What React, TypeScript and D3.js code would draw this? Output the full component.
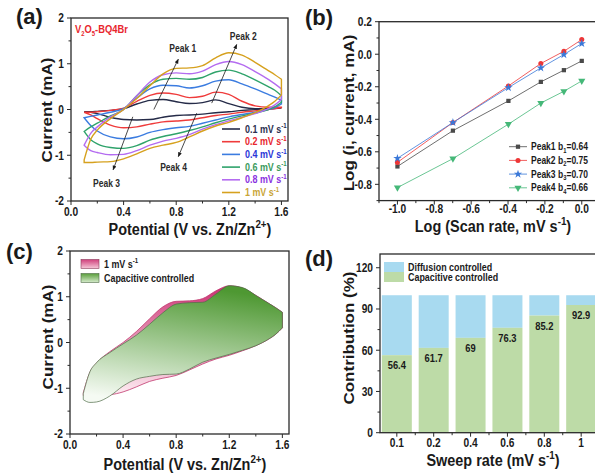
import React from 'react';
import * as d3 from 'd3';

const SX = 0.85;
const FONT = "'Liberation Sans', Arial, Helvetica, sans-serif";

// ---------- Panel (a): CV curves ----------
const potentials = [0.1, 0.15, 0.2, 0.3, 0.4, 0.5, 0.6, 0.7, 0.8, 0.9, 1.0, 1.1, 1.2, 1.3, 1.4, 1.5, 1.55, 1.6];
const up01 = [-0.05, -0.05, -0.04, -0.02, 0.02, 0.12, 0.2, 0.22, 0.17, 0.13, 0.15, 0.21, 0.13, 0.05, 0.02, 0.02, 0.02, 0.03];
const down01 = [-0.05, -0.06, -0.09, -0.17, -0.22, -0.23, -0.22, -0.17, -0.13, -0.12, -0.1, -0.07, -0.05, -0.02, 0.0, 0.01, 0.02, 0.03];
const up02 = [-0.06, -0.06, -0.05, -0.02, 0.03, 0.18, 0.31, 0.36, 0.33, 0.26, 0.29, 0.38, 0.33, 0.18, 0.08, 0.05, 0.05, 0.05];
const down02 = [-0.06, -0.12, -0.2, -0.34, -0.4, -0.38, -0.32, -0.27, -0.25, -0.23, -0.18, -0.13, -0.1, -0.06, -0.03, 0.0, 0.02, 0.04];
const up04 = [-0.18, -0.15, -0.12, -0.06, 0.02, 0.25, 0.45, 0.53, 0.52, 0.47, 0.52, 0.62, 0.65, 0.56, 0.45, 0.33, 0.27, 0.2];
const down04 = [-0.18, -0.35, -0.47, -0.6, -0.64, -0.6, -0.5, -0.44, -0.4, -0.37, -0.3, -0.23, -0.16, -0.11, -0.06, 0.0, 0.04, 0.12];
const up06 = [-0.48, -0.38, -0.3, -0.14, 0.0, 0.3, 0.54, 0.66, 0.68, 0.66, 0.7, 0.82, 0.86, 0.78, 0.65, 0.5, 0.42, 0.3];
const down06 = [-0.48, -0.66, -0.75, -0.83, -0.85, -0.79, -0.67, -0.59, -0.53, -0.46, -0.38, -0.29, -0.21, -0.14, -0.08, 0.0, 0.06, 0.16];
const up08 = [-0.78, -0.52, -0.38, -0.16, 0.0, 0.3, 0.6, 0.76, 0.8, 0.78, 0.84, 0.98, 1.05, 0.98, 0.83, 0.66, 0.56, 0.45];
const down08 = [-0.78, -0.9, -0.94, -0.99, -0.98, -0.9, -0.78, -0.69, -0.63, -0.55, -0.43, -0.33, -0.25, -0.17, -0.09, 0.02, 0.1, 0.22];
const up1 = [-1.1, -0.65, -0.45, -0.2, 0.0, 0.24, 0.52, 0.78, 0.9, 0.91, 0.96, 1.13, 1.24, 1.19, 1.03, 0.85, 0.76, 0.66];
const down1 = [-1.16, -1.16, -1.15, -1.14, -1.08, -0.97, -0.85, -0.78, -0.72, -0.6, -0.47, -0.36, -0.28, -0.18, -0.07, 0.08, 0.18, 0.32];

const rateLabels = ['0.1', '0.2', '0.4', '0.6', '0.8', '1'];
const cvUp = [up01, up02, up04, up06, up08, up1];
const cvDown = [down01, down02, down04, down06, down08, down1];
const lineColors = ['#252b48', '#ef3b3b', '#3b7ce0', '#2fa36b', '#b46cf0', '#d6a11e'];
const textColors = ['#2b3050', '#e8262d', '#2a36d8', '#3a9a5c', '#8a30e0', '#c9a536'];

// ---------- Panel (b): log i vs log v ----------
const logRates = [-1, -0.699, -0.398, -0.222, -0.097, 0];
const peak1 = [-0.69, -0.47, -0.287, -0.17, -0.098, -0.041];
const peak2 = [-0.665, -0.42, -0.195, -0.057, 0.018, 0.09];
const peak3 = [-0.64, -0.42, -0.205, -0.084, -0.002, 0.066];
const peak4 = [-0.82, -0.642, -0.43, -0.3, -0.228, -0.164];
const peakNames = ['Peak1', 'Peak2', 'Peak3', 'Peak4'];
const bValues = ['0.64', '0.75', '0.70', '0.66'];
const peakColors = ['#4a4a4a', '#ee3636', '#3a78d8', '#45b878'];

// ---------- Panel (c): capacitive contribution at 1 mV/s ----------
const capUp = [-1.12, -0.64, -0.44, -0.22, -0.03, 0.16, 0.4, 0.65, 0.84, 0.87, 0.88, 1.06, 1.24, 1.2, 1.03, 0.85, 0.76, 0.66];
const capDown = [-1.25, -1.31, -1.3, -1.17, -0.95, -0.8, -0.74, -0.7, -0.69, -0.58, -0.43, -0.34, -0.26, -0.17, -0.07, 0.08, 0.18, 0.32];

// ---------- Panel (d): contribution bars ----------
const sweepRates = ['0.1', '0.2', '0.4', '0.6', '0.8', '1'];
const capacitive = [56.4, 61.7, 69, 76.3, 85.2, 92.9];
const capLabels = ['56.4', '61.7', '69', '76.3', '85.2', '92.9'];

type TProps = { x: number; y: number; size?: number; anchor?: string; fill?: string; rot?: boolean; children?: React.ReactNode; weight?: string; sx?: number };
function T({ x, y, size = 12, anchor = 'start', fill = '#1a1a1a', rot = false, children, weight = 'bold', sx = SX }: TProps) {
  const tf = rot ? `translate(${x},${y}) scale(${sx},1) rotate(-90)` : `translate(${x},${y}) scale(${sx},1)`;
  return (
    <text transform={tf} textAnchor={anchor as any} fontSize={size} fontWeight={weight} fill={fill} fontFamily={FONT}>
      {children}
    </text>
  );
}

function Frame({ x0, x1, y0, y1 }: { x0: number; x1: number; y0: number; y1: number }) {
  return <rect x={x0} y={y0} width={x1 - x0} height={y1 - y0} fill="none" stroke="#2a2a2a" strokeWidth={1.3} />;
}

function XTicks({ scale, y, major, minor, fmt, labelY, size = 12 }: any) {
  return (
    <g>
      {major.map((v: any, i: number) => (
        <line key={'M' + i} x1={scale(v)} x2={scale(v)} y1={y} y2={y + 4} stroke="#2a2a2a" strokeWidth={1} />
      ))}
      {minor.map((v: any, i: number) => (
        <line key={'m' + i} x1={scale(v)} x2={scale(v)} y1={y} y2={y + 2.5} stroke="#2a2a2a" strokeWidth={1} />
      ))}
      {major.map((v: any, i: number) => (
        <T key={'L' + i} x={scale(v)} y={labelY} size={size} anchor="middle">{fmt(v)}</T>
      ))}
    </g>
  );
}

function YTicks({ scale, x, major, minor, fmt, labelX, size = 12 }: any) {
  return (
    <g>
      {major.map((v: number, i: number) => (
        <line key={'M' + i} x1={x - 4} x2={x} y1={scale(v)} y2={scale(v)} stroke="#2a2a2a" strokeWidth={1} />
      ))}
      {minor.map((v: number, i: number) => (
        <line key={'m' + i} x1={x - 2.5} x2={x} y1={scale(v)} y2={scale(v)} stroke="#2a2a2a" strokeWidth={1} />
      ))}
      {major.map((v: number, i: number) => (
        <T key={'L' + i} x={labelX} y={scale(v) + size * 0.36} size={size} anchor="end">{fmt(v)}</T>
      ))}
    </g>
  );
}

function loopPath(up: number[], down: number[], xs: any, ys: any) {
  const pts = potentials.map((v, i) => ({ v, u: up[i], d: down[i] }));
  const area = d3
    .area<{ v: number; u: number; d: number }>()
    .x((p) => xs(p.v))
    .y1((p) => ys(p.u))
    .y0((p) => ys(p.d))
    .curve(d3.curveMonotoneX);
  return area(pts) || '';
}

function Sup({ text, size, rise = 0.42 }: { text: string; size: number; rise?: number }) {
  return (
    <tspan dy={-size * rise} fontSize={size * 0.68}>{text}</tspan>
  );
}

export default function App() {
  // Panel a
  const ax = d3.scaleLinear().domain([0, 1.65]).range([71, 288]);
  const ay = d3.scaleLinear().domain([-2, 2]).range([201, 18]);
  // Panel b
  const bx = d3.scaleLinear().domain([-1.1, 0.1]).range([379, 600.2]);
  const by = d3.scaleLinear().domain([-0.9, 0.2]).range([200.6, 21.7]);
  // Panel c
  const cx = d3.scaleLinear().domain([0, 1.65]).range([70, 289]);
  const cy = d3.scaleLinear().domain([-2, 2]).range([434, 251]);
  // Panel d
  const dx = d3.scalePoint<string>().domain(sweepRates).range([380, 598]).padding(0.456);
  const dy = d3.scaleLinear().domain([0, 130]).range([432.7, 254]);
  const barW = 30;

  const xMajorA = [0, 4, 8, 12, 16].map((i) => i / 10);
  const xMinorA = [2, 6, 10, 14].map((i) => i / 10);
  const yMajorA = [-2, -1, 0, 1, 2];
  const yMinorA = [-1.5, -0.5, 0.5, 1.5];

  const bLine = d3.line<number>().x((_, i) => bx(logRates[i])).y((v) => by(v));
  const peaks = [peak1, peak2, peak3, peak4];
  const symbols = [d3.symbolSquare, d3.symbolCircle, d3.symbolStar, d3.symbolTriangle];
  const symSizes = [18, 20, 22, 22];
  const symPath = (k: number) => d3.symbol().type(symbols[k]).size(symSizes[k])() || '';

  const arrows = [
    { from: [0.63, 0.0], to: [0.816, 1.1], label: 'Peak 1', at: [0.85, 1.33] },
    { from: [1.07, 0.14], to: [1.26, 1.42], label: 'Peak 2', at: [1.31, 1.6] },
    { from: [0.47, -0.16], to: [0.32, -1.32], label: 'Peak 3', at: [0.27, -1.62] },
    { from: [0.956, -0.08], to: [0.816, -1.03], label: 'Peak 4', at: [0.78, -1.27] },
  ];

  return (
    <svg width={595} height={474} style={{ position: 'absolute', left: 0, top: 0, background: '#fff' }} fontFamily={FONT}>
      <defs>
        <marker id="arr" viewBox="0 0 10 10" refX="9" refY="5" markerWidth="6" markerHeight="6" orient="auto-start-reverse">
          <path d="M0,1 L10,5 L0,9 z" fill="#1a1a1a" />
        </marker>
        <linearGradient id="pinkG" x1="0.6" y1="0" x2="0.3" y2="1">
          <stop offset="0%" stopColor="#cc3474" />
          <stop offset="100%" stopColor="#fde9f0" />
        </linearGradient>
        <linearGradient id="greenG" x1="0.55" y1="0" x2="0.3" y2="1">
          <stop offset="0%" stopColor="#4e9832" />
          <stop offset="100%" stopColor="#f5faf3" />
        </linearGradient>
        <linearGradient id="pinkS" x1="0" y1="0" x2="0" y2="1">
          <stop offset="0%" stopColor="#d0407c" />
          <stop offset="100%" stopColor="#f6c8d8" />
        </linearGradient>
        <linearGradient id="greenS" x1="0" y1="0" x2="0" y2="1">
          <stop offset="0%" stopColor="#5a9e3c" />
          <stop offset="100%" stopColor="#d6ebcc" />
        </linearGradient>
      </defs>
      <rect x={0} y={0} width={595} height={474} fill="#fff" />

      {/* ================= Panel (a) ================= */}
      <T x={16} y={24} size={22} sx={1}>(a)</T>
      {cvUp.map((u, k) => (
        <path key={k} d={loopPath(u, cvDown[k], ax, ay)} fill="none" stroke={lineColors[k]} strokeWidth={1.4} />
      ))}
      {arrows.map((a, i) => (
        <g key={i}>
          <line x1={ax(a.from[0])} y1={ay(a.from[1])} x2={ax(a.to[0])} y2={ay(a.to[1])} stroke="#1a1a1a" strokeWidth={0.8} markerEnd="url(#arr)" />
          <T x={ax(a.at[0])} y={ay(a.at[1]) + 3.5} size={10} anchor="middle" fill="#2a2a2a">{a.label}</T>
        </g>
      ))}
      <T x={75} y={33} size={11} fill="#e8262d">
        V<tspan dy={2.5} fontSize={7}>2</tspan><tspan dy={-2.5}>O</tspan><tspan dy={2.5} fontSize={7}>5</tspan><tspan dy={-2.5}>-BQ4Br</tspan>
      </T>
      {rateLabels.map((r, k) => {
        const yy = 129 + k * 12.7;
        return (
          <g key={k}>
            <line x1={222} x2={240} y1={yy} y2={yy} stroke={lineColors[k]} strokeWidth={1.6} />
            <T x={245} y={yy + 3.6} size={10.5} fill={textColors[k]}>
              {r} mV s<Sup text="-1" size={10.5} />
            </T>
          </g>
        );
      })}
      <Frame x0={71} x1={288} y0={18} y1={201} />
      <XTicks scale={ax} y={201} major={xMajorA} minor={xMinorA} fmt={(v: number) => v.toFixed(1)} labelY={215.5} />
      <YTicks scale={ay} x={71} major={yMajorA} minor={yMinorA} fmt={(v: number) => String(v)} labelX={64} />
      <T x={190} y={235} size={17} anchor="middle">
        Potential (V vs. Zn/Zn<Sup text="2+" size={17} /><tspan dy={17 * 0.42}>)</tspan>
      </T>
      <T x={52} y={110} size={17} anchor="middle" rot>Current (mA)</T>

      {/* ================= Panel (b) ================= */}
      <T x={305} y={25} size={22} sx={1}>(b)</T>
      {peaks.map((p, k) => (
        <g key={k}>
          <path d={bLine(p) || ''} fill="none" stroke={peakColors[k]} strokeWidth={0.8} />
          {p.map((v, i) => (
            <path key={i} d={symPath(k)} transform={`translate(${bx(logRates[i])},${by(v)})${k === 3 ? ' rotate(180)' : ''}`} fill={peakColors[k]} />
          ))}
        </g>
      ))}
      {peakNames.map((n, k) => {
        const yy = 146.7 + k * 13.7;
        return (
          <g key={k}>
            <line x1={509} x2={527} y1={yy} y2={yy} stroke={peakColors[k]} strokeWidth={0.8} />
            <path d={symPath(k)} transform={`translate(518,${yy})${k === 3 ? ' rotate(180)' : ''}`} fill={peakColors[k]} />
            <T x={531} y={yy + 3.5} size={10}>{n}</T>
            <T x={558} y={yy + 3.5} size={10}>
              b<tspan dy={2.3} fontSize={6.8}>{k + 1}</tspan><tspan dy={-2.3}>={bValues[k]}</tspan>
            </T>
          </g>
        );
      })}
      <Frame x0={379} x1={600.2} y0={21.7} y1={200.6} />
      <XTicks scale={bx} y={200.6} major={[-10, -8, -6, -4, -2, 0].map((i) => i / 10)} minor={[-11, -9, -7, -5, -3, -1].map((i) => i / 10)} fmt={(v: number) => v.toFixed(1)} labelY={213} />
      <YTicks scale={by} x={379} major={[-8, -6, -4, -2, 0, 2].map((i) => i / 10)} minor={[-9, -7, -5, -3, -1, 1].map((i) => i / 10)} fmt={(v: number) => v.toFixed(1)} labelX={372} />
      <T x={493} y={232} size={17} anchor="middle">
        Log (Scan rate, mV s<Sup text="-1" size={17} /><tspan dy={17 * 0.42}>)</tspan>
      </T>
      <T x={354} y={113} size={17} anchor="middle" rot>Log (i, current, mA)</T>

      {/* ================= Panel (c) ================= */}
      <T x={6} y={259} size={22} sx={1}>(c)</T>
      <path d={loopPath(up1, down1, cx, cy)} fill="url(#pinkG)" stroke="#c23a70" strokeWidth={0.8} />
      <path d={loopPath(capUp, capDown, cx, cy)} fill="url(#greenG)" stroke="#4f6b47" strokeWidth={0.7} />
      <rect x={81} y={259.5} width={18} height={9} fill="url(#pinkS)" stroke="#8a3a5a" strokeWidth={0.6} />
      <rect x={81} y={273.5} width={18} height={9} fill="url(#greenS)" stroke="#4f6b47" strokeWidth={0.6} />
      <T x={104} y={267.8} size={10.5}>1 mV s<Sup text="-1" size={10.5} /></T>
      <T x={104} y={281.8} size={10.5}>Capacitive controlled</T>
      <Frame x0={70} x1={289} y0={251} y1={434} />
      <XTicks scale={cx} y={434} major={xMajorA} minor={xMinorA} fmt={(v: number) => v.toFixed(1)} labelY={448.5} />
      <YTicks scale={cy} x={70} major={yMajorA} minor={yMinorA} fmt={(v: number) => String(v)} labelX={63} />
      <T x={185} y={470} size={17} anchor="middle">
        Potential (V vs. Zn/Zn<Sup text="2+" size={17} /><tspan dy={17 * 0.42}>)</tspan>
      </T>
      <T x={53} y={337} size={17} anchor="middle" rot>Current (mA)</T>

      {/* ================= Panel (d) ================= */}
      <T x={305} y={266} size={22} sx={1}>(d)</T>
      {sweepRates.map((s, i) => (
        <g key={s}>
          <rect x={(dx(s) as number) - barW / 2} y={dy(100)} width={barW} height={dy(capacitive[i]) - dy(100)} fill="#a8daf0" />
          <rect x={(dx(s) as number) - barW / 2} y={dy(capacitive[i])} width={barW} height={dy(0) - dy(capacitive[i])} fill="#bddba7" />
          <T x={dx(s) as number} y={dy(capacitive[i]) + 14} size={11} anchor="middle">{capLabels[i]}</T>
        </g>
      ))}
      <rect x={384} y={262} width={20} height={10} fill="#a8daf0" />
      <rect x={384} y={272} width={20} height={10} fill="#bddba7" />
      <T x={408} y={270.5} size={10.5}>Diffusion controlled</T>
      <T x={408} y={281} size={10.5}>Capacitive controlled</T>
      <Frame x0={380} x1={598} y0={254} y1={432.7} />
      {sweepRates.map((s, i) => (
        <line key={'dm' + i} x1={dx(s)} x2={dx(s)} y1={432.7} y2={436.7} stroke="#2a2a2a" />
      ))}
      {sweepRates.slice(1).map((s, i) => {
        const mid = ((dx(s) as number) + (dx(sweepRates[i]) as number)) / 2;
        return <line key={'dn' + i} x1={mid} x2={mid} y1={432.7} y2={435.2} stroke="#2a2a2a" />;
      })}
      {sweepRates.map((s, i) => (
        <T key={'dl' + i} x={dx(s) as number} y={446.5} size={12} anchor="middle">{s}</T>
      ))}
      <YTicks scale={dy} x={380} major={[0, 30, 60, 90, 120]} minor={[15, 45, 75, 105]} fmt={(v: number) => String(v)} labelX={373} />
      <T x={493} y={466} size={17} anchor="middle">
        Sweep rate (mV s<Sup text="-1" size={17} /><tspan dy={17 * 0.42}>)</tspan>
      </T>
      <T x={354} y={338} size={17} anchor="middle" rot>Contribution (%)</T>
    </svg>
  );
}
